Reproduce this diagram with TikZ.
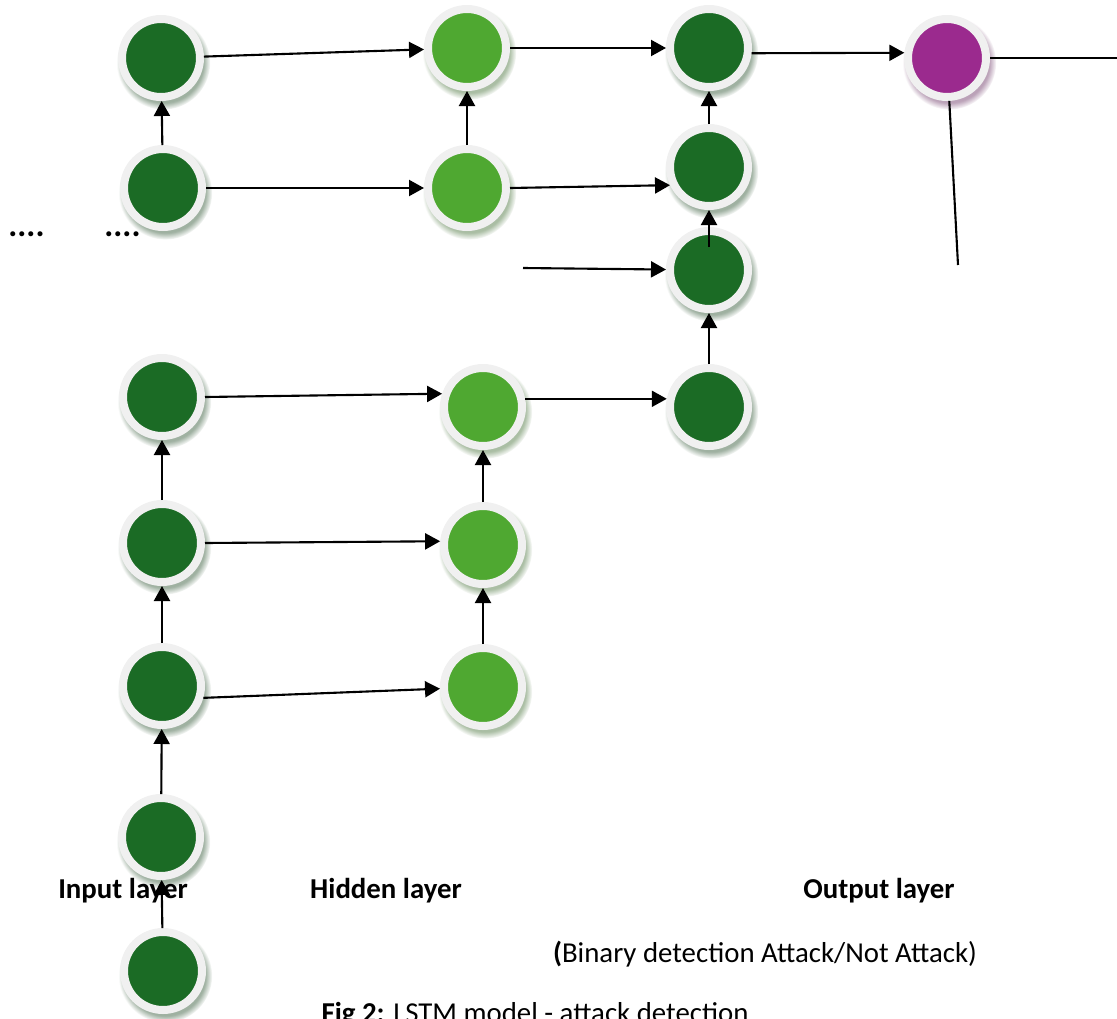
\documentclass[tikz,border=0pt]{standalone}
\usepackage{fontspec}
\setmainfont{Carlito}
\usetikzlibrary{arrows.meta,shadows}
\definecolor{dkg}{RGB}{27, 107, 37}
\definecolor{ltg}{RGB}{79, 168, 49}
\definecolor{pur}{RGB}{155, 42, 142}
\definecolor{rim}{RGB}{240, 240, 240}

\begin{document}
\begin{tikzpicture}[
    unit/.style={circle, draw=rim, line width=0.08cm, minimum size=0.78cm, inner sep=0pt, fill=#1,
      circular drop shadow={shadow xshift=0.02cm, shadow yshift=-0.04cm, shadow scale=1.2, fill=#1!55!black, opacity=0.4}},
    arr/.style={-{Triangle[length=0.15cm, width=0.16cm]}, line width=0.6pt},
    lbl/.style={font=\fontsize{8.2}{10}\selectfont, anchor=base, inner sep=0pt}
  ]
  \clip (0, 0) rectangle (11.17, -10.19);
  % input layer
  \node[unit=dkg] (i1) at (1.61, -0.58) {};
  \node[unit=dkg] (i2) at (1.63, -1.88) {};
  \node[unit=dkg] (i3) at (1.62, -3.97) {};
  \node[unit=dkg] (i4) at (1.62, -5.43) {};
  \node[unit=dkg] (i5) at (1.62, -6.86) {};
  \node[unit=dkg] (i6) at (1.61, -8.37) {};
  \node[unit=dkg] (i7) at (1.63, -9.71) {};
  % hidden layer
  \node[unit=ltg] (h1) at (4.67, -0.48) {};
  \node[unit=ltg] (h2) at (4.67, -1.88) {};
  \node[unit=ltg] (h3) at (4.83, -4.07) {};
  \node[unit=ltg] (h4) at (4.83, -5.45) {};
  \node[unit=ltg] (h5) at (4.83, -6.87) {};
  % last cells
  \node[unit=dkg] (c1) at (7.09, -0.48) {};
  \node[unit=dkg] (c2) at (7.09, -1.67) {};
  \node[unit=dkg] (c3) at (7.09, -2.70) {};
  \node[unit=dkg] (c4) at (7.09, -4.07) {};
  % output
  \node[unit=pur] (o) at (9.47, -0.58) {};
  \coordinate (sb) at (5.23, -2.68);
  \coordinate (or) at (11.25, -0.58);
  \coordinate (od) at (9.58, -2.65);

  \node[lbl, font=\fontsize{9.6}{10}\selectfont] (d1) at (0.265, -2.36) {\bfseries ....};
  \node[lbl, font=\fontsize{9.6}{10}\selectfont] (d2) at (1.225, -2.36) {\bfseries ....};
  \node[lbl] (li) at (1.23, -8.98) {\bfseries Input layer};
  \node[lbl] (lh) at (3.86, -8.98) {\bfseries Hidden layer};
  \node[lbl] (lo) at (8.79, -8.98) {\bfseries Output layer};
  \node[lbl] (lb) at (7.65, -9.62) {\textbf{(}Binary detection Attack/Not Attack)};
  \node[lbl] (cap) at (5.35, -10.22) {\textbf{Fig 2:} LSTM model - attack detection};

  % upward links
  \draw[arr] (i2) -- (i1);
  \draw[arr] (i4) -- (i3);
  \draw[arr] (i5) -- (i4);
  \draw[arr] (i6) -- (i5);
  \draw[arr] (i7) -- (i6);
  \draw[arr] (h2) -- (h1);
  \draw[arr] (h4) -- (h3);
  \draw[arr] (h5) -- (h4);
  \draw[arr] (c2) -- (c1);
  \draw[arr] ([yshift=0.23cm]c3.center) -- (c2);
  \draw[arr] (c4) -- (c3);
  % forward links
  \draw[arr] (i1) -- (h1);
  \draw[arr] (i2) -- (h2);
  \draw[arr] (i3.east) -- (h3.162);
  \draw[arr] (i4.east) -- (h4.175);
  \draw[arr] (i5.-16) -- (h5);
  \draw[arr] (h1) -- (c1);
  \draw[arr] (h2.east) -- (c2.205);
  \draw[arr] (h3.11) -- (c4.169);
  \draw[arr] (sb) -- (c3);
  \draw[arr] (c1.-7) -- (o.173);
  \draw[line width=0.6pt] (o) -- (or);
  \draw[line width=0.6pt] (o) -- (od);
\end{tikzpicture}
\end{document}
